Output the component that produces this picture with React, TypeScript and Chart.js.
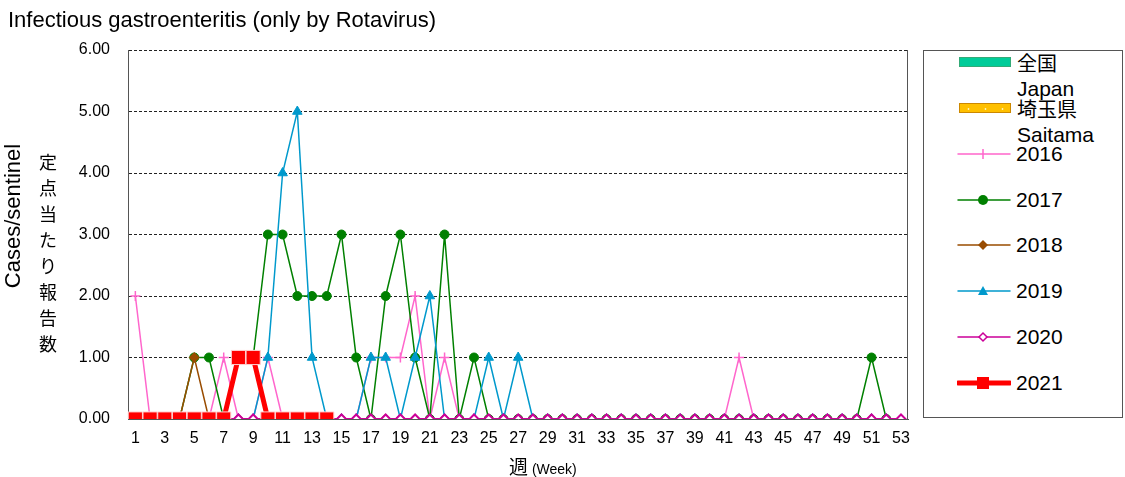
import React, { useEffect, useRef } from 'react';
import { Chart, registerables } from 'chart.js';

Chart.register(...registerables);

const weeks = [
  '1', '2', '3', '4', '5', '6', '7', '8', '9', '10',
  '11', '12', '13', '14', '15', '16', '17', '18', '19', '20',
  '21', '22', '23', '24', '25', '26', '27', '28', '29', '30',
  '31', '32', '33', '34', '35', '36', '37', '38', '39', '40',
  '41', '42', '43', '44', '45', '46', '47', '48', '49', '50',
  '51', '52', '53',
];

const yMin = 0;
const yMax = 6;
const yStep = 1;

const s2016 = [
  2, 0, 0, 0, 0, 0, 1, 0, 0, 1,
  0, 0, 0, 0, 0, 0, 1, 1, 1, 2,
  0, 1, 0, 0, 0, 0, 0, 0, 0, 0,
  0, 0, 0, 0, 0, 0, 0, 0, 0, 0,
  0, 1, 0, 0, 0, 0, 0, 0, 0, 0,
  0, 0,
];

const s2017 = [
  0, 0, 0, 0, 1, 1, 0, 1, 1, 3,
  3, 2, 2, 2, 3, 1, 0, 2, 3, 1,
  0, 3, 0, 1, 0, 0, 0, 0, 0, 0,
  0, 0, 0, 0, 0, 0, 0, 0, 0, 0,
  0, 0, 0, 0, 0, 0, 0, 0, 0, 0,
  1, 0,
];

const s2018 = [
  0, 0, 0, 0, 1, 0, 0, 0, 0, 0,
  0, 0, 0, 0, 0, 0, 0, 0, 0, 0,
  0, 0, 0, 0, 0, 0, 0, 0, 0, 0,
  0, 0, 0, 0, 0, 0, 0, 0, 0, 0,
  0, 0, 0, 0, 0, 0, 0, 0, 0, 0,
  0, 0,
];

const s2019 = [
  0, 0, 0, 0, 0, 0, 0, 0, 0, 1,
  4, 5, 1, 0, 0, 0, 1, 1, 0, 1,
  2, 0, 0, 0, 1, 0, 1, 0, 0, 0,
  0, 0, 0, 0, 0, 0, 0, 0, 0, 0,
  0, 0, 0, 0, 0, 0, 0, 0, 0, 0,
  0, 0,
];

const s2020 = [
  0, 0, 0, 0, 0, 0, 0, 0, 0, 0,
  0, 0, 0, 0, 0, 0, 0, 0, 0, 0,
  0, 0, 0, 0, 0, 0, 0, 0, 0, 0,
  0, 0, 0, 0, 0, 0, 0, 0, 0, 0,
  0, 0, 0, 0, 0, 0, 0, 0, 0, 0,
  0, 0, 0,
];

const s2021 = [0, 0, 0, 0, 0, 0, 0, 1, 1, 0, 0, 0, 0, 0];

const FONT = '"Liberation Sans", Arial, "Noto Sans CJK JP", sans-serif';
const CJK = '"Noto Sans CJK JP", "Liberation Sans", sans-serif';

const C2016 = '#FF66CC';
const C2017 = '#008000';
const C2018 = '#994C00';
const C2019 = '#0099CC';
const C2020 = '#CC0099';
const C2021 = '#FF0000';

const frame = {
  id: 'frame',
  beforeDatasetsDraw(chart: any) {
    const { ctx, chartArea } = chart;
    ctx.save();
    ctx.strokeStyle = '#555';
    ctx.lineWidth = 1;
    ctx.beginPath();
    ctx.moveTo(Math.round(chartArea.right) - 0.5, chartArea.top);
    ctx.lineTo(Math.round(chartArea.right) - 0.5, chartArea.bottom);
    ctx.stroke();
    ctx.restore();
  },
};

function LegendLine({ color, width, marker }: { color: string; width: number; marker: string }) {
  let m: any = null;
  const cx = 26;
  const cy = 8;
  if (marker === 'cross') {
    m = (
      <g stroke={color} strokeWidth={1.5}>
        <line x1={cx} y1={cy - 5} x2={cx} y2={cy + 5} />
      </g>
    );
  } else if (marker === 'circle') {
    m = <circle cx={cx} cy={cy} r={5} fill={color} />;
  } else if (marker === 'diamond') {
    m = <polygon points={`${cx},${cy - 5} ${cx + 5},${cy} ${cx},${cy + 5} ${cx - 5},${cy}`} fill={color} />;
  } else if (marker === 'triangle') {
    m = <polygon points={`${cx},${cy - 5} ${cx + 5},${cy + 4} ${cx - 5},${cy + 4}`} fill={color} />;
  } else if (marker === 'hollow') {
    m = (
      <polygon
        points={`${cx},${cy - 4} ${cx + 4},${cy} ${cx},${cy + 4} ${cx - 4},${cy}`}
        fill="#fff"
        stroke={color}
        strokeWidth={1.5}
      />
    );
  } else if (marker === 'square') {
    m = <rect x={cx - 6} y={cy - 6} width={12} height={12} fill={color} />;
  }
  return (
    <svg width={54} height={16} style={{ position: 'absolute', left: 34, top: -8 }}>
      <line x1={1} y1={cy} x2={53} y2={cy} stroke={color} strokeWidth={width} strokeLinecap="round" />
      {m}
    </svg>
  );
}

export default function App() {
  const ref = useRef<HTMLCanvasElement>(null);

  useEffect(() => {
    const canvas = ref.current;
    if (!canvas) return;
    const chart = new Chart(canvas, {
      type: 'line',
      data: {
        labels: weeks,
        datasets: [
          {
            label: '2016',
            data: s2016,
            borderColor: C2016,
            backgroundColor: C2016,
            borderWidth: 1.5,
            pointStyle: 'cross',
            pointRadius: 5,
            pointBorderWidth: 1.5,
            order: 6,
          },
          {
            label: '2017',
            data: s2017,
            borderColor: C2017,
            backgroundColor: C2017,
            borderWidth: 1.5,
            pointStyle: 'circle',
            pointRadius: 4.5,
            pointBorderWidth: 1,
            order: 5,
          },
          {
            label: '2018',
            data: s2018,
            borderColor: C2018,
            backgroundColor: C2018,
            borderWidth: 1.5,
            pointStyle: 'rectRot',
            pointRadius: 5,
            pointBorderWidth: 1,
            order: 4,
          },
          {
            label: '2019',
            data: s2019,
            borderColor: C2019,
            backgroundColor: C2019,
            borderWidth: 1.5,
            pointStyle: 'triangle',
            pointRadius: 5.5,
            pointBorderWidth: 1,
            order: 3,
          },
          {
            label: '2020',
            data: s2020,
            borderColor: C2020,
            backgroundColor: C2020,
            pointBackgroundColor: '#FFFFFF',
            borderWidth: 2,
            pointStyle: 'rectRot',
            pointRadius: 4.5,
            pointBorderWidth: 2,
            order: 2,
          },
          {
            label: '2021',
            data: s2021,
            borderColor: C2021,
            backgroundColor: C2021,
            borderWidth: 5,
            pointStyle: 'rect',
            pointRadius: 10,
            pointBorderWidth: 1,
            pointBorderColor: '#FFD0D0',
            order: 1,
          },
        ],
      },
      options: {
        responsive: false,
        animation: false,
        events: [],
        layout: { padding: { left: 70, top: 50, right: 3, bottom: 0 } },
        plugins: {
          legend: { display: false },
          tooltip: { enabled: false },
          title: { display: false },
        },
        elements: { line: { tension: 0 } },
        scales: {
          x: {
            offset: true,
            grid: { display: false, drawTicks: false },
            border: { display: true, color: '#555', width: 1 },
            ticks: {
              autoSkip: false,
              maxRotation: 0,
              minRotation: 0,
              padding: 10,
              color: '#000',
              font: { family: FONT, size: 16 },
              callback: (_v: any, i: number) => (i % 2 === 0 ? weeks[i] : ''),
            },
            afterFit: (s: any) => {
              s.height = 58;
            },
          },
          y: {
            min: yMin,
            max: yMax,
            grid: {
              drawTicks: false,
              color: (c: any) => (c.tick && c.tick.value === 0 ? 'rgba(0,0,0,0)' : '#222'),
              lineWidth: 1,
            },
            border: { display: true, color: '#555', width: 1, dash: [3, 2] },
            ticks: {
              stepSize: yStep,
              padding: 18,
              color: '#000',
              font: { family: FONT, size: 16 },
              callback: (v: any) => Number(v).toFixed(2),
            },
            afterFit: (s: any) => {
              s.width = 58;
            },
          },
        },
      },
      plugins: [frame],
    });
    return () => chart.destroy();
  }, []);

  const legendRows = [
    { top: 103, color: C2016, width: 1.5, marker: 'cross', text: '2016' },
    { top: 149, color: C2017, width: 1.5, marker: 'circle', text: '2017' },
    { top: 194, color: C2018, width: 1.5, marker: 'diamond', text: '2018' },
    { top: 240, color: C2019, width: 1.5, marker: 'triangle', text: '2019' },
    { top: 286, color: C2020, width: 1.5, marker: 'hollow', text: '2020' },
    { top: 332, color: C2021, width: 5, marker: 'square', text: '2021' },
  ];

  const jpChars = ['定', '点', '当', 'た', 'り', '報', '告', '数'];

  const textStyle = (top: number, size: number, fam = FONT): React.CSSProperties => ({
    position: 'absolute',
    left: 93,
    top: top - size * 0.6,
    fontSize: size,
    lineHeight: `${size * 1.2}px`,
    fontFamily: fam,
    color: '#000',
    whiteSpace: 'nowrap',
  });

  return (
    <div style={{ position: 'absolute', left: 0, top: 0, width: 1125, height: 477, background: '#fff', overflow: 'hidden' }}>
      <canvas ref={ref} width={920} height={477} style={{ position: 'absolute', left: 0, top: 0, width: 920, height: 477 }} />
      <div style={{ position: 'absolute', left: 8, top: 7, fontFamily: FONT, fontSize: 22, lineHeight: '26px', color: '#000', whiteSpace: 'nowrap' }}>
        Infectious gastroenteritis (only by Rotavirus)
      </div>
      <div
        style={{
          position: 'absolute',
          left: 13,
          top: 216,
          transform: 'translate(-50%, -50%) rotate(-90deg)',
          fontFamily: FONT,
          fontSize: 22,
          lineHeight: '24px',
          whiteSpace: 'nowrap',
          color: '#000',
        }}
      >
        Cases/sentinel
      </div>
      {jpChars.map((ch, i) => (
        <div
          key={ch}
          style={{
            position: 'absolute',
            left: 38,
            top: 161 + i * 26 - 12,
            width: 20,
            height: 24,
            lineHeight: '24px',
            textAlign: 'center',
            fontFamily: CJK,
            fontSize: 18,
            color: '#000',
          }}
        >
          {ch}
        </div>
      ))}
      <div style={{ position: 'absolute', left: 509, top: 454, whiteSpace: 'nowrap', color: '#000', lineHeight: '24px' }}>
        <span style={{ fontFamily: CJK, fontSize: 19 }}>週</span>
        <span style={{ fontFamily: FONT, fontSize: 14 }}> (Week)</span>
      </div>
      <div
        style={{
          position: 'absolute',
          left: 923,
          top: 50,
          width: 200,
          height: 368,
          border: '1px solid #555',
          boxSizing: 'border-box',
          background: '#fff',
        }}
      >
        <div style={{ position: 'absolute', left: 35, top: 6, width: 52, height: 10, background: '#00CC99', border: '1px solid #33AA77', boxSizing: 'border-box' }} />
        <div style={textStyle(12, 20, CJK)}>全国</div>
        <div style={textStyle(38, 21)}>Japan</div>
        <div
          style={{
            position: 'absolute',
            left: 35,
            top: 52,
            width: 52,
            height: 10,
            backgroundColor: '#FFC000',
            backgroundImage: 'radial-gradient(circle, #FFF1B0 0.8px, transparent 1.2px)',
            backgroundSize: '17px 10px',
            border: '1px solid #CC8800',
            boxSizing: 'border-box',
          }}
        />
        <div style={textStyle(58, 20, CJK)}>埼玉県</div>
        <div style={textStyle(84, 21)}>Saitama</div>
        {legendRows.map((r) => (
          <div key={r.text} style={{ position: 'absolute', left: -1, top: r.top, width: 0, height: 0 }}>
            <LegendLine color={r.color} width={r.width} marker={r.marker} />
            <div style={textStyle(0, 21)}>{r.text}</div>
          </div>
        ))}
      </div>
    </div>
  );
}
